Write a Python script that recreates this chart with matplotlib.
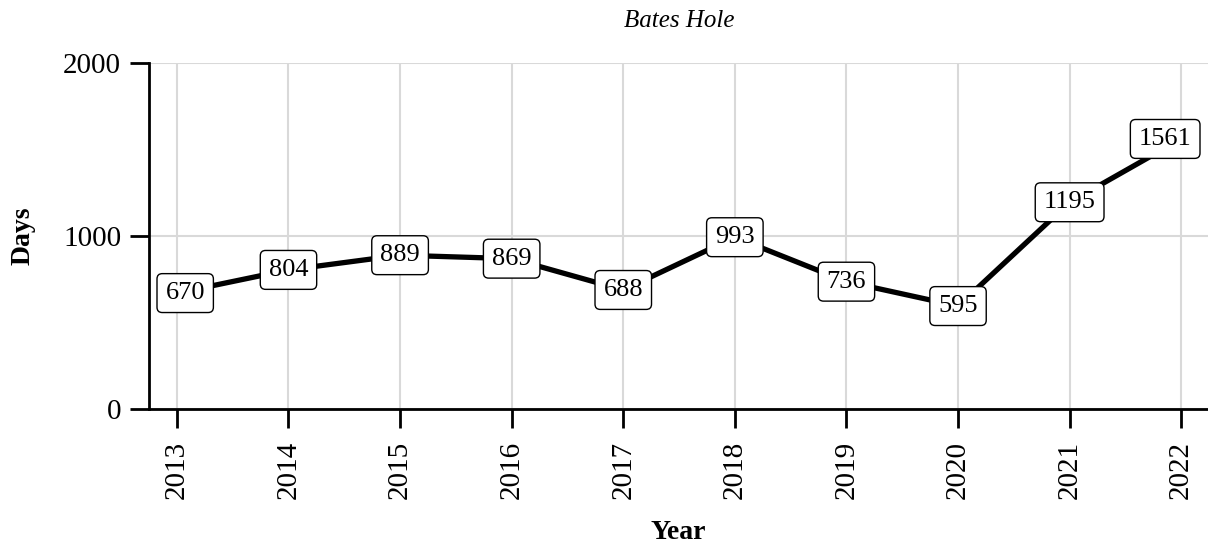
import matplotlib
matplotlib.use("Agg")
import matplotlib.pyplot as plt

# data
years = [2013, 2014, 2015, 2016, 2017, 2018, 2019, 2020, 2021, 2022]
days = [670, 804, 889, 869, 688, 993, 736, 595, 1195, 1561]
y_ticks = [0, 1000, 2000]

plt.rcParams['font.family'] = ['Liberation Serif', 'DejaVu Serif']

fig = plt.figure(figsize=(12.08, 5.45), dpi=100)
ax = fig.add_axes([149 / 1208, 1 - 409 / 545, (1208 - 149) / 1208, (409 - 63) / 545])

ax.plot(years, days, color='black', linewidth=3.8, zorder=3, solid_capstyle='butt')

# value labels in rounded boxes
labels = []
for x, y in zip(years, days):
    t = ax.annotate(str(y), (x, y), xytext=(0, 0), textcoords='offset points',
                    ha='center', va='center', fontsize=19, zorder=4,
                    bbox=dict(boxstyle='round,pad=0.32,rounding_size=0.2', fc='white', ec='black', lw=1))
    labels.append(t)

ax.set_xlim(2012.75, 2022.24)
ax.set_ylim(0, 2000)
ax.set_xticks(years)
ax.set_xticklabels([str(y) for y in years], rotation=90)
ax.set_yticks(y_ticks)

ax.grid(True, color='#d9d9d9', linewidth=1.5)
ax.set_axisbelow(True)

for side in ['top', 'right']:
    ax.spines[side].set_visible(False)
ax.spines['left'].set_linewidth(2)
ax.spines['bottom'].set_linewidth(2)
ax.tick_params(axis='both', length=14, width=2, labelsize=21)
ax.tick_params(axis='y', pad=6)
ax.tick_params(axis='x', pad=9)

ax.set_ylabel('Days', fontsize=20, fontweight='bold', labelpad=20)
ax.set_xlabel('Year', fontsize=20, fontweight='bold', labelpad=15)
fig.text(0.562, 0.962, 'Bates Hole', ha='center', va='center', fontsize=18, style='italic')

# keep labels inside the plot area
fig.canvas.draw()
renderer = fig.canvas.get_renderer()
ax_box = ax.get_window_extent(renderer)
margin = 8
for t in labels:
    bb = t.get_bbox_patch().get_window_extent(renderer)
    dx = 0
    if bb.x0 < ax_box.x0 + margin:
        dx = ax_box.x0 + margin - bb.x0
    elif bb.x1 > ax_box.x1 - margin:
        dx = ax_box.x1 - margin - bb.x1
    if dx:
        t.set_position((dx * 72 / fig.dpi, 0))

fig.savefig('out.png', dpi=100)
